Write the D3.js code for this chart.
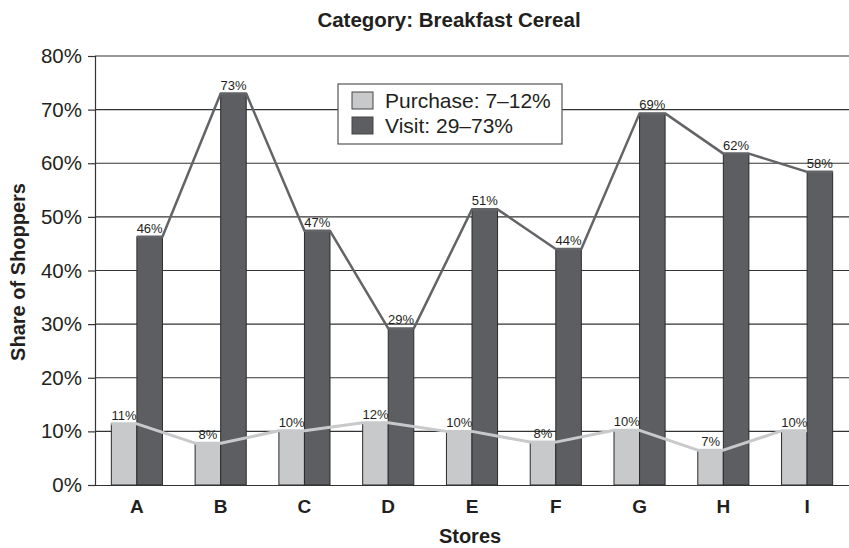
<!DOCTYPE html>
<html>
<head>
<meta charset="utf-8">
<script src="https://cdn.jsdelivr.net/npm/d3@7"></script>
<style>
  body { margin: 0; background: #fff; }
  svg text { font-family: "Liberation Sans", Arial, sans-serif; fill: #231f20; }
</style>
</head>
<body>
<div id="canvas"></div>
<script>
const stores = ["A", "B", "C", "D", "E", "F", "G", "H", "I"];
const purchase = [11.4, 7.8, 10.1, 11.6, 10.0, 8.0, 10.2, 6.5, 10.1];
const visit = [46.3, 73.0, 47.4, 29.2, 51.4, 44.0, 69.3, 61.8, 58.4];
const yTicks = [0, 10, 20, 30, 40, 50, 60, 70, 80];
const seriesNames = ["purchase", "visit"];
const legendLabels = ["Purchase: 7\u201312%", "Visit: 29\u201373%"];

const width = 849;
const height = 548;
const margin = { top: 56, left: 95, bottom: 63, right: 0 };
const iwidth = width - margin.left - margin.right;
const iheight = height - margin.top - margin.bottom;

const colors = { purchase: "#c8c9cb", visit: "#5d5e61" };
const lineColors = { purchase: "#c8c9cb", visit: "#636467" };

const svg = d3.select("#canvas").append("svg")
  .attr("width", width)
  .attr("height", height);

const g = svg.append("g").attr("transform", `translate(${margin.left},${margin.top})`);

const y = d3.scaleLinear().domain([0, 80]).range([iheight, 0]);

const x = d3.scaleBand()
  .domain(stores)
  .range([0, iwidth])
  .paddingInner(0.39)
  .paddingOuter(0.195);

const xs = d3.scaleBand().domain(seriesNames).range([0, x.bandwidth()]);

// grid
g.append("g")
  .selectAll("line")
  .data(yTicks.filter(d => d > 0))
  .enter().append("line")
  .attr("x1", 0)
  .attr("x2", iwidth)
  .attr("y1", d => y(d))
  .attr("y2", d => y(d))
  .attr("stroke", "#333")
  .attr("stroke-width", 1.2);

const rows = stores.map((s, i) => ({ store: s, purchase: purchase[i], visit: visit[i] }));

seriesNames.forEach(key => {
  g.append("g").selectAll("rect")
    .data(rows)
    .enter().append("rect")
    .attr("x", d => x(d.store) + xs(key))
    .attr("y", d => y(d[key]))
    .attr("width", xs.bandwidth())
    .attr("height", d => iheight - y(d[key]))
    .attr("fill", colors[key])
    .attr("stroke", "#2b2b2b")
    .attr("stroke-width", 1);
});

// lines through the bar tops
seriesNames.slice().reverse().forEach(key => {
  const pts = [];
  rows.forEach(d => {
    pts.push([x(d.store) + xs(key), y(d[key])]);
    pts.push([x(d.store) + xs(key) + xs.bandwidth(), y(d[key])]);
  });
  g.append("path")
    .attr("d", d3.line()(pts))
    .attr("fill", "none")
    .attr("stroke", lineColors[key])
    .attr("stroke-width", key === "visit" ? 2.5 : 3)
    .attr("stroke-linejoin", "round");
});

// value labels
seriesNames.forEach(key => {
  g.append("g").selectAll("text")
    .data(rows)
    .enter().append("text")
    .attr("x", d => x(d.store) + xs(key) + xs.bandwidth() / 2)
    .attr("y", d => y(d[key]) - 4)
    .attr("text-anchor", "middle")
    .style("font-size", "13px")
    .text(d => Math.round(d[key]) + "%");
});

// axes
const yAxis = g.append("g")
  .call(d3.axisLeft(y).tickValues(yTicks).tickFormat(d => d + "%").tickSize(7).tickPadding(6));
yAxis.select(".domain").attr("stroke", "#333").attr("stroke-width", 1.2);
yAxis.selectAll(".tick line").attr("stroke", "#333").attr("stroke-width", 1.2);
yAxis.selectAll(".tick text").style("font-size", "20.5px").attr("fill", "#231f20");

const xAxis = g.append("g")
  .attr("transform", `translate(0,${iheight})`)
  .call(d3.axisBottom(x).tickSize(0).tickPadding(15));
xAxis.select(".domain").attr("stroke", "#333").attr("stroke-width", 1.2);
xAxis.selectAll(".tick text").style("font-size", "19px").style("font-weight", "bold").attr("fill", "#231f20");

// titles
svg.append("text")
  .attr("x", 449)
  .attr("y", 27)
  .attr("text-anchor", "middle")
  .style("font-size", "20.5px")
  .style("font-weight", "bold")
  .text("Category: Breakfast Cereal");

svg.append("text")
  .attr("x", 470)
  .attr("y", 543)
  .attr("text-anchor", "middle")
  .style("font-size", "20px")
  .style("font-weight", "bold")
  .text("Stores");

svg.append("text")
  .attr("transform", "translate(25,272) rotate(-90)")
  .attr("text-anchor", "middle")
  .style("font-size", "20px")
  .style("font-weight", "bold")
  .text("Share of Shoppers");

// legend
const legend = svg.append("g").attr("transform", "translate(338,84)");
legend.append("rect")
  .attr("width", 224)
  .attr("height", 60)
  .attr("fill", "#fff")
  .attr("stroke", "#555")
  .attr("stroke-width", 1.2);
seriesNames.forEach((key, i) => {
  legend.append("rect")
    .attr("x", 14)
    .attr("y", 8 + i * 25)
    .attr("width", 21)
    .attr("height", 17)
    .attr("fill", colors[key])
    .attr("stroke", "#444")
    .attr("stroke-width", 1);
  legend.append("text")
    .attr("x", 47)
    .attr("y", 24 + i * 25)
    .style("font-size", "21px")
    .text(legendLabels[i]);
});
</script>
</body>
</html>
